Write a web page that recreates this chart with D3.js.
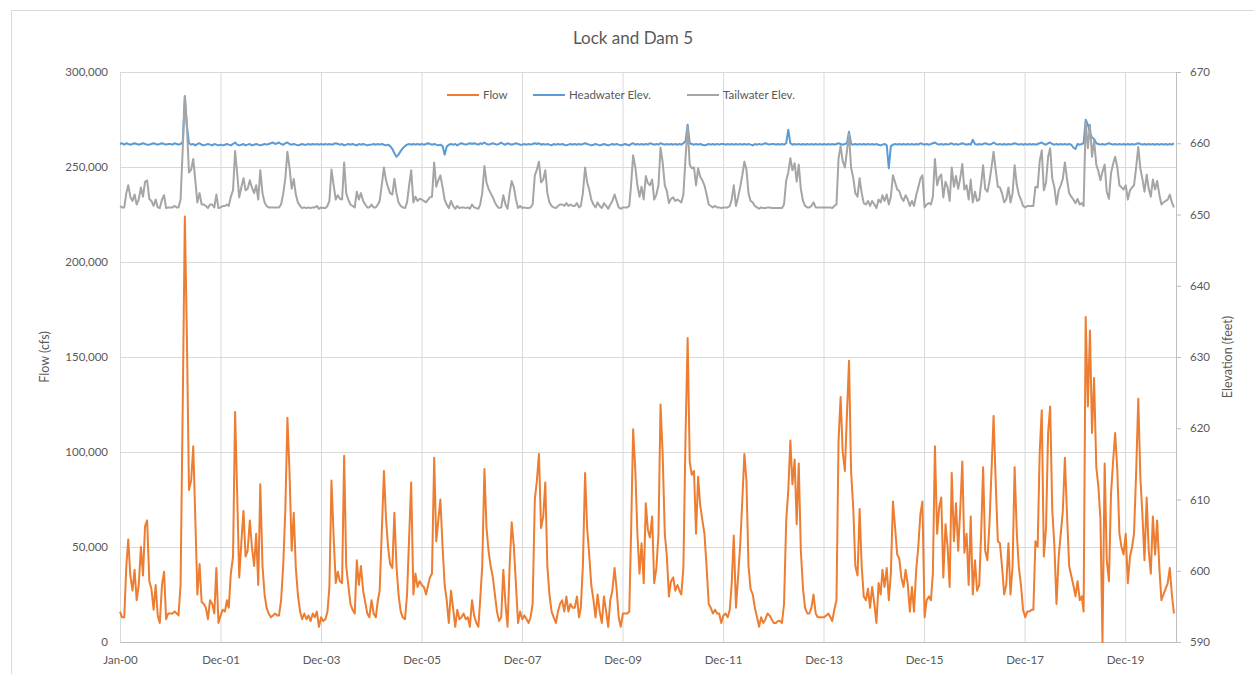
<!DOCTYPE html>
<html>
<head>
<meta charset="utf-8">
<script src="https://cdn.jsdelivr.net/npm/d3@7"></script>
<style>
  body { margin: 0; background: #fff; }
  text { font-family: Lato, "Open Sans", sans-serif; fill: #595959; }
</style>
</head>
<body>
<div id="chart"></div>
<script>
// readings taken twice a month (1st and 16th), Jan 2000 - Dec 2020, one row per year
var startYear = 2000;
var seriesNames = ["Flow", "Headwater Elev.", "Tailwater Elev."];
var seriesColors = ["#ed7d31", "#5b9bd5", "#a5a5a5"];

// flow in thousands of cfs
var flowK = [
  16,13,13,40,54,35,27,38,22,30,50,35,61,64,32,28,17,30,14,10,30,37,12,15,
  15,15,16,15,14,30,127,224,160,80,85,103,65,25,41,21,20,18,12,22,20,15,39,10,
  14,17,16,22,18,36,45,121,78,34,53,69,45,48,64,50,40,57,30,83,40,25,18,15,
  13,14,15,14,14,22,41,70,118,90,48,68,39,25,16,12,15,12,14,11,15,13,16,8,
  13,11,12,16,29,85,55,31,37,32,31,98,40,30,20,17,15,43,30,40,27,21,15,13,
  22,15,13,22,27,57,90,65,50,41,39,68,40,25,16,13,12,25,55,84,25,36,29,32,
  30,29,25,30,34,36,97,53,64,75,50,30,22,10,27,18,8,17,12,13,15,12,13,8,
  22,14,10,8,22,40,91,60,48,40,34,25,16,11,13,38,20,8,40,63,50,30,10,16,
  12,14,12,10,13,20,75,85,99,60,66,84,40,25,16,13,10,16,20,22,16,24,16,20,
  18,18,24,13,18,40,89,60,46,30,22,13,25,16,10,24,16,8,22,27,39,28,13,8,
  15,15,15,16,57,112,90,57,36,52,31,73,59,55,66,31,39,57,125,100,57,45,24,32,
  34,27,30,27,25,39,110,160,95,88,90,57,87,72,64,57,39,20,18,15,17,15,15,10,
  14,15,13,17,31,56,18,34,50,73,99,85,40,28,25,18,13,8,13,10,12,15,14,12,
  10,10,11,11,10,20,64,80,106,83,96,62,94,48,28,18,15,15,18,25,15,13,13,13,
  13,14,15,13,11,17,22,106,129,100,90,120,148,90,70,40,35,70,40,24,22,28,18,29,
  20,10,31,25,38,29,39,22,36,74,60,46,44,34,29,38,30,16,29,16,38,50,67,74,
  13,22,24,22,36,103,57,71,76,34,62,50,29,89,53,73,48,70,95,47,57,30,66,25,
  43,27,30,60,92,48,43,62,90,119,83,53,52,40,25,30,52,25,40,92,57,39,30,17,
  13,16,16,17,17,53,50,100,122,45,60,110,124,70,50,20,45,57,69,97,66,40,35,30,
  24,32,22,24,16,171,124,164,110,139,92,82,65,0,94,43,32,78,95,110,90,57,50,46,
  57,31,45,50,57,88,128,87,67,43,76,48,36,66,46,64,39,22,25,28,31,39,25,15
];

// headwater elevation, feet
var headwater = [
  659.9,660.0,659.8,660.0,659.9,659.8,659.9,660.0,659.9,659.8,659.9,660.0,659.9,659.8,659.8,659.9,660.0,659.9,659.8,659.9,660.0,659.9,659.8,659.9,
  659.9,659.8,660.0,659.9,659.8,659.9,660.2,666.6,662.4,660.0,659.8,659.9,659.7,659.9,660.0,659.8,659.7,659.8,659.9,659.8,659.7,659.9,659.8,659.7,
  659.8,659.7,659.8,659.9,659.8,659.7,659.9,660.1,659.8,659.7,659.8,659.9,659.7,659.8,659.9,659.7,659.8,659.9,659.8,659.7,659.8,659.9,659.8,659.9,
  660.0,660.1,659.9,660.0,660.1,659.9,659.8,660.0,660.1,659.9,659.8,659.9,659.8,659.7,659.8,659.9,659.8,659.8,659.9,659.8,659.9,659.8,659.9,659.8,
  659.9,659.8,659.9,659.8,659.9,659.8,659.9,660.0,659.9,659.8,659.9,659.7,659.8,659.9,659.8,659.9,659.8,659.7,659.9,659.8,659.9,659.8,659.7,659.8,
  659.8,659.9,659.8,659.9,659.8,659.9,659.8,659.7,659.8,659.6,659.2,658.6,658.1,658.4,658.9,659.3,659.6,659.8,659.9,659.8,659.9,659.8,659.9,659.8,
  659.9,659.8,659.9,660.0,659.9,659.8,659.9,659.8,659.7,659.8,659.6,658.4,659.5,659.8,659.9,659.8,659.9,659.7,659.9,660.0,659.9,659.8,659.9,660.0,
  659.9,660.0,659.9,659.8,660.0,659.9,660.1,659.9,659.8,659.9,660.0,659.9,659.8,659.9,660.1,659.9,659.8,660.0,659.9,659.8,659.9,660.0,659.9,659.8,
  659.8,659.9,659.8,659.9,659.8,659.9,660.0,659.9,660.0,659.8,659.9,659.8,659.9,659.8,659.7,659.9,659.8,659.9,659.8,659.9,659.8,659.7,659.8,659.9,
  659.8,659.9,659.8,659.9,659.8,659.9,660.0,659.9,659.8,659.7,659.8,659.9,659.8,659.7,659.8,659.9,659.8,659.7,659.8,659.9,659.8,659.9,659.8,659.7,
  659.8,659.9,659.8,659.7,659.9,660.0,659.8,659.9,659.8,659.9,659.8,659.9,659.8,660.0,659.9,659.8,659.9,659.8,660.0,659.9,659.8,659.9,659.8,659.9,
  659.8,659.9,659.8,659.9,659.8,660.0,660.3,662.6,660.0,659.9,659.8,659.9,659.8,659.9,659.8,659.7,659.8,659.9,659.8,659.9,659.8,659.9,659.8,659.9,
  659.9,659.8,659.9,659.8,659.9,659.8,659.9,659.8,659.9,659.8,659.9,659.8,659.9,659.8,659.7,659.9,659.8,659.9,659.8,659.9,660.0,659.9,659.8,659.9,
  659.9,659.8,659.9,659.8,659.9,659.8,660.0,661.9,660.0,659.8,659.9,659.8,659.9,659.8,659.9,659.8,659.9,659.8,659.9,659.8,659.9,659.8,659.9,659.8,
  659.9,659.8,659.9,659.8,659.9,659.8,659.9,660.0,659.9,659.8,659.9,660.0,661.6,659.9,659.8,659.9,659.8,659.9,659.8,659.9,659.8,659.9,659.8,659.9,
  659.8,659.9,659.8,659.7,659.8,659.9,659.7,656.5,659.6,659.8,659.9,659.8,659.9,659.8,659.9,659.8,659.9,659.8,659.9,659.8,659.9,659.8,660.0,659.9,
  659.8,659.9,659.8,659.9,660.0,660.1,659.9,659.8,659.9,659.8,659.9,659.8,659.9,660.0,659.8,659.9,659.8,659.9,660.0,659.9,659.8,659.9,659.8,660.5,
  659.9,659.8,659.9,659.8,659.9,660.0,659.9,659.8,659.9,660.1,659.9,659.8,659.9,659.8,659.9,659.8,659.9,659.8,659.9,660.0,659.9,659.8,659.9,659.8,
  659.9,659.8,659.9,659.8,659.9,659.8,659.9,660.0,660.1,659.9,659.8,660.0,660.1,659.9,659.8,659.9,659.8,659.9,659.8,659.9,659.8,659.9,659.8,659.4,
  659.2,659.9,659.8,659.9,660.0,663.3,662.6,661.5,660.8,660.6,660.0,659.9,659.8,659.9,659.8,659.9,660.0,659.9,659.8,659.9,659.8,659.9,659.8,659.9,
  659.8,659.9,659.8,659.9,659.8,659.9,660.0,659.9,659.8,659.9,659.8,659.9,659.8,659.9,659.8,659.9,659.8,659.9,659.8,659.9,659.8,659.9,659.8,660.0
];

// tailwater elevation, feet
var tailwater = [
  651.2,651.0,651.0,653.0,654.1,652.5,651.9,652.8,651.4,652.1,653.8,652.5,654.6,654.8,652.2,651.9,651.2,652.1,651.0,650.9,652.1,652.7,650.9,651.0,
  651.0,651.0,651.2,651.0,651.0,652.1,659.4,666.6,662.3,655.9,656.3,657.8,654.8,651.7,653.0,651.4,651.4,651.2,650.9,651.4,651.4,651.0,652.8,650.9,
  651.0,651.2,651.2,651.4,651.2,652.5,653.4,658.9,655.8,652.4,653.9,655.1,653.4,653.6,654.8,653.8,653.0,654.1,652.1,656.2,653.0,651.7,651.2,651.0,
  651.0,651.0,651.0,651.0,651.0,651.4,653.0,655.1,658.8,656.6,653.6,655.0,652.8,651.7,651.2,650.9,651.0,650.9,651.0,650.9,651.0,651.0,651.2,650.8,
  651.0,650.9,650.9,651.2,651.9,656.3,654.1,652.1,652.7,652.2,652.1,657.3,653.0,652.1,651.4,651.2,651.0,653.2,652.1,653.0,651.9,651.4,651.0,651.0,
  651.4,651.0,651.0,651.4,651.9,654.1,656.6,654.8,653.8,653.0,652.8,655.0,653.0,651.7,651.2,651.0,650.9,651.7,654.1,656.2,651.7,652.5,651.9,652.2,
  652.1,651.9,651.7,652.1,652.4,652.5,657.3,653.9,654.8,655.5,653.8,652.1,651.4,650.9,651.9,651.2,650.8,651.2,650.9,651.0,651.0,650.9,651.0,650.8,
  651.4,651.0,650.9,650.8,651.4,653.0,656.8,654.5,653.6,653.0,652.4,651.7,651.2,650.9,651.0,652.7,651.4,650.8,653.0,654.7,653.8,652.1,650.9,651.2,
  650.9,651.0,650.9,650.9,651.0,651.4,655.5,656.3,657.4,654.5,654.9,656.2,653.0,651.7,651.2,651.0,650.9,651.2,651.4,651.4,651.2,651.6,651.2,651.4,
  651.2,651.2,651.6,651.0,651.2,653.0,656.6,654.5,653.5,652.1,651.4,651.0,651.7,651.2,650.9,651.6,651.2,650.8,651.4,651.9,652.8,651.9,651.0,650.8,
  651.0,651.0,651.0,651.2,654.1,658.3,656.6,654.1,652.5,653.9,652.1,655.4,654.4,654.1,654.9,652.1,652.8,654.1,659.4,657.4,654.1,653.3,651.6,652.2,
  652.4,651.9,652.1,651.9,651.7,652.8,658.1,662.3,657.0,656.5,656.6,654.1,656.5,655.3,654.8,654.1,652.8,651.4,651.2,651.0,651.2,651.0,651.0,650.9,
  651.0,651.0,651.0,651.2,652.1,654.1,651.2,652.4,653.8,655.4,657.4,656.3,653.0,651.9,651.7,651.2,651.0,650.8,651.0,650.9,650.9,651.0,651.0,650.9,
  650.9,650.9,650.9,650.9,650.9,651.4,654.8,655.9,657.9,656.2,657.2,654.6,657.0,653.6,651.9,651.2,651.0,651.0,651.2,651.7,651.0,651.0,651.0,651.0,
  651.0,651.0,651.0,651.0,650.9,651.2,651.4,657.9,659.6,657.5,656.6,658.9,661.3,656.6,655.1,653.0,652.5,655.1,653.0,651.6,651.4,651.9,651.2,651.9,
  651.4,650.9,652.1,651.7,652.7,651.9,652.8,651.4,652.5,655.5,654.5,653.5,653.3,652.4,651.9,652.7,652.1,651.2,651.9,651.2,652.7,653.8,655.0,655.5,
  651.0,651.4,651.6,651.4,652.5,657.8,654.1,655.2,655.6,652.4,654.6,653.8,651.9,656.6,653.9,655.4,653.6,655.1,657.1,653.5,654.1,652.1,654.9,651.7,
  653.2,651.9,652.1,654.5,656.9,653.6,653.2,654.6,656.6,658.8,656.2,653.9,653.8,653.0,651.7,652.1,653.8,651.7,653.0,656.9,654.1,652.8,652.1,651.2,
  651.0,651.2,651.2,651.2,651.2,653.9,653.8,657.5,659.0,653.4,654.5,658.1,659.3,655.1,653.8,651.4,653.4,654.1,655.0,657.3,654.9,653.0,652.5,652.1,
  651.6,652.2,651.4,651.6,651.2,663.0,659.3,662.6,658.1,660.4,657.0,656.1,654.8,656.0,657.0,653.2,652.2,655.8,657.1,658.1,656.6,654.1,653.8,653.5,
  654.1,652.1,653.4,653.8,654.1,656.5,659.5,656.5,655.0,653.2,655.6,653.6,652.5,654.9,653.5,654.7,652.8,651.4,651.7,651.9,652.1,652.8,651.7,651.0
];

var flowTicks = [0, 50000, 100000, 150000, 200000, 250000, 300000];
var elevTicks = [590, 600, 610, 620, 630, 640, 650, 660, 670];
var xTickDates = ["2000-01-01", "2001-12-31", "2003-12-31", "2005-12-30", "2007-12-30",
  "2009-12-29", "2011-12-29", "2013-12-28", "2015-12-28", "2017-12-27", "2019-12-27"];

var width = 1254;
var height = 674;
// plot box
var plotLeft = 120, plotRight = 1176, plotTop = 72, plotBottom = 642;

var svg = d3.select("#chart").append("svg")
  .attr("width", width)
  .attr("height", height);

// chart area border
svg.append("rect")
  .attr("x", 11.5).attr("y", 10.5)
  .attr("width", 1270).attr("height", 700)
  .attr("fill", "#fff")
  .attr("stroke", "#d9d9d9");

// one record per reading
var parseDay = d3.timeParse("%Y-%m-%d");
var rows = flowK.map(function(f, i) {
  var yr = startYear + Math.floor(i / 24);
  var mo = Math.floor((i % 24) / 2);
  return {
    date: new Date(yr, mo, (i % 2) ? 16 : 1),
    flow: f * 1000,
    head: headwater[i],
    tail: tailwater[i]
  };
});

var xScale = d3.scaleTime()
  .domain([new Date(2000, 0, 1), new Date(2020, 11, 31)])
  .range([plotLeft, plotRight]);
var yFlow = d3.scaleLinear().domain([0, 300000]).range([plotBottom, plotTop]);
var yElev = d3.scaleLinear().domain([590, 670]).range([plotBottom, plotTop]);

// horizontal gridlines + left labels
var leftAxis = svg.append("g")
  .attr("transform", "translate(" + plotLeft + ",0)")
  .call(d3.axisLeft(yFlow).tickValues(flowTicks)
    .tickSize(-(plotRight - plotLeft)).tickPadding(12)
    .tickFormat(d3.format(",")));
leftAxis.select(".domain").remove();
leftAxis.selectAll("line").attr("stroke", "#d9d9d9");
leftAxis.selectAll("text").style("font-size", "11.5px");

// vertical gridlines + date labels
var bottomAxis = svg.append("g")
  .attr("transform", "translate(0," + plotBottom + ")")
  .call(d3.axisBottom(xScale).tickValues(xTickDates.map(parseDay))
    .tickSize(-(plotBottom - plotTop)).tickSizeOuter(0).tickPadding(14)
    .tickFormat(d3.timeFormat("%b-%y")));
bottomAxis.selectAll("line").attr("stroke", "#d9d9d9");
bottomAxis.select(".domain").attr("stroke", "#bfbfbf");
bottomAxis.selectAll("text").style("font-size", "11.5px");

// right elevation axis
var rightAxis = svg.append("g")
  .attr("transform", "translate(" + plotRight + ",0)")
  .call(d3.axisRight(yElev).tickValues(elevTicks)
    .tickSize(5).tickSizeOuter(0).tickPadding(9));
rightAxis.selectAll("line").attr("stroke", "#bfbfbf");
rightAxis.select(".domain").attr("stroke", "#bfbfbf");
rightAxis.selectAll("text").style("font-size", "11.5px");

// the three series
var flowLine = d3.line()
  .x(function(d) { return xScale(d.date); })
  .y(function(d) { return yFlow(d.flow); });
var headLine = d3.line()
  .x(function(d) { return xScale(d.date); })
  .y(function(d) { return yElev(d.head); });
var tailLine = d3.line()
  .x(function(d) { return xScale(d.date); })
  .y(function(d) { return yElev(d.tail); });

[flowLine, headLine, tailLine].forEach(function(gen, i) {
  svg.append("path")
    .datum(rows)
    .attr("d", gen)
    .attr("fill", "none")
    .attr("stroke", seriesColors[i])
    .attr("stroke-width", 2)
    .attr("stroke-linejoin", "round");
});

// title
svg.append("text")
  .attr("x", 633).attr("y", 44)
  .attr("text-anchor", "middle")
  .style("font-size", "17px")
  .text("Lock and Dam 5");

// axis titles
svg.append("text")
  .attr("transform", "translate(49,357) rotate(-90)")
  .attr("text-anchor", "middle")
  .style("font-size", "12.5px")
  .text("Flow (cfs)");
svg.append("text")
  .attr("transform", "translate(1232,357) rotate(-90)")
  .attr("text-anchor", "middle")
  .style("font-size", "12.5px")
  .text("Elevation (feet)");

// legend
var legendX = [447, 533, 687];
var legend = svg.append("g").attr("transform", "translate(0,95)");
seriesNames.forEach(function(name, i) {
  legend.append("line")
    .attr("x1", legendX[i]).attr("x2", legendX[i] + 32)
    .attr("y1", 0).attr("y2", 0)
    .attr("stroke", seriesColors[i])
    .attr("stroke-width", 2);
  legend.append("text")
    .attr("x", legendX[i] + 36).attr("y", 4)
    .style("font-size", "11.5px")
    .text(name);
});
</script>
</body>
</html>
